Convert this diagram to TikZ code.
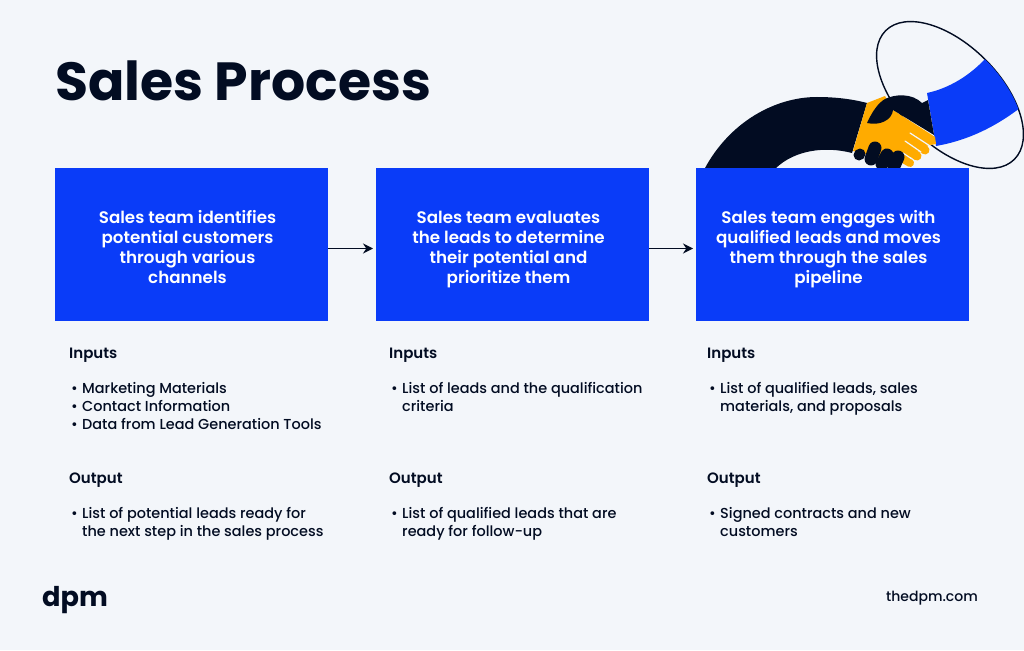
\documentclass[tikz,border=0pt]{standalone}
\usepackage{fontspec}
\setmainfont{Poppins Medium}[BoldFont={Poppins SemiBold}]
\newfontfamily\logofont{Poppins}
\definecolor{ink}{HTML}{020C22}
\definecolor{paper}{HTML}{F3F6FA}
\definecolor{brand}{HTML}{0A3CF8}
\definecolor{palm}{HTML}{FFAB00}
\tikzstyle{stepbox}=[fill=brand,text=white,anchor=north west,minimum width=273pt,minimum height=153pt,inner sep=0pt,outer sep=0pt,font=\fontsize{16.7}{20}\selectfont\bfseries]
\tikzstyle{heading}=[text=ink,anchor=base west,inner sep=0pt,font=\fontsize{15}{18}\selectfont\bfseries]
\tikzstyle{listing}=[text=ink,anchor=north west,inner sep=0pt,align=left,font=\fontsize{14.45}{18}\selectfont]
\tikzstyle{flow}=[draw=ink,line width=1.3pt,-{Stealth[length=10pt,width=10pt]}]
\tikzstyle{knuckle}=[draw=ink,line width=13pt,line cap=round]
\tikzstyle{finger}=[draw=palm,line width=9pt,line cap=round]
\tikzstyle{crease}=[draw=paper,line width=1.2pt,line cap=round]
\usetikzlibrary{arrows.meta}
\newcommand{\itm}{\makebox[13pt][l]{\hspace{2pt}•}}
\newcommand{\cont}{\hspace*{13pt}}
\newcommand{\steplines}[1]{\kern-8pt\begin{tabular}{@{}c@{}}\rule{0pt}{24pt}#1\end{tabular}}
\begin{document}
\begin{tikzpicture}[x=1pt,y=-1pt]
\useasboundingbox[fill=paper] (0,0) rectangle (1024,650);
\node[text=ink,anchor=base west,inner sep=0pt,font=\fontsize{53.7}{60}\logofont\bfseries] (title) at (55,101) {Sales Process};
% handshake
\draw[ink,line width=1.4pt,shift={(950,95)},rotate=-45] (0,0) ellipse [x radius=91,y radius=50];
\begin{scope}
  \clip[shift={(950,95)},rotate=-45] (0,0) ellipse [x radius=91,y radius=50];
  \fill[brand] (927,93) .. controls (950,88) and (970,75) .. (985,59) -- (1030,100)
     .. controls (1000,125) and (970,140) .. (936,146) -- cycle;
\end{scope}
\fill[ink] (705,168) .. controls (730,122) and (775,97) .. (817,97)
   .. controls (835,97) and (852,99) .. (867,103) -- (852,153)
   .. controls (825,146) and (795,150) .. (776,168) -- cycle;
\fill[palm] (867,103) -- (885,96) -- (893,110) -- (935,137) -- (936,144) -- (925,146)
   -- (905,160) -- (890,160) -- (853,151) -- cycle;
\draw[finger] (907,137) -- (925,150);
\draw[finger] (904,147) -- (917,156);
\draw[finger,line width=8pt] (900,157) -- (910,163);
\fill[ink] (867,123) .. controls (872,112) and (878,103) .. (885,99)
   .. controls (895,94) and (912,93) .. (922,103) -- (928,100) -- (934,135) -- (893,110)
   .. controls (892,120) and (880,126) .. (867,123) -- cycle;
\draw[crease] (910,133) -- (930,146);
\draw[crease] (905,141) -- (921,152);
\draw[crease] (903,153) -- (912,159);
\draw[knuckle,line width=11pt] (859,155) -- (860,154);
\draw[knuckle] (875,148) -- (871,159);
\draw[knuckle] (887,155) -- (882,164);
\draw[knuckle] (898,157) -- (894,166);
% steps
\path (55,168) node[stepbox] (identify) {\steplines{Sales team identifies\\potential customers\\through various\\channels}}
   ++(321,0) node[stepbox] (evaluate) {\steplines{Sales team evaluates\\the leads to determine\\their potential and\\prioritize them}}
   ++(320,0) node[stepbox] (engage) {\steplines{Sales team engages with\\qualified leads and moves\\them through the sales\\pipeline}};
\coordinate (tipA) at ([xshift=-3pt,yshift=-4pt]evaluate.west);
\coordinate (tipB) at ([xshift=-3pt,yshift=-4pt]engage.west);
\draw[flow] ([yshift=-4pt]identify.east) -- (tipA);
\draw[flow] ([yshift=-4pt]evaluate.east) -- (tipB);
% columns
\path (69,358) node[heading] (inputsA) {Inputs}
   ++(0,24) node[listing] (inlistA) {\itm Marketing Materials\\\itm Contact Information\\\itm Data from Lead Generation Tools}
   ++(0,101) node[heading] (outputA) {Output}
   ++(0,24) node[listing] (outlistA) {\itm List of potential leads ready for\\\cont the next step in the sales process};
\path (389,358) node[heading] (inputsB) {Inputs}
   ++(0,24) node[listing] (inlistB) {\itm List of leads and the qualification\\\cont criteria}
   ++(0,101) node[heading] (outputB) {Output}
   ++(0,24) node[listing] (outlistB) {\itm List of qualified leads that are\\\cont ready for follow-up};
\path (707,358) node[heading] (inputsC) {Inputs}
   ++(0,24) node[listing] (inlistC) {\itm List of qualified leads, sales\\\cont materials, and proposals}
   ++(0,101) node[heading] (outputC) {Output}
   ++(0,24) node[listing] (outlistC) {\itm Signed contracts and new\\\cont customers};
% footer
\node[text=ink,anchor=base west,inner sep=0pt,font=\fontsize{27.2}{30}\logofont\bfseries] (logo) at (42,606) {dpm};
\node[text=ink,anchor=base east,inner sep=0pt,font=\fontsize{14}{18}\selectfont] (site) at (978,601) {thedpm.com};
\end{tikzpicture}
\end{document}
